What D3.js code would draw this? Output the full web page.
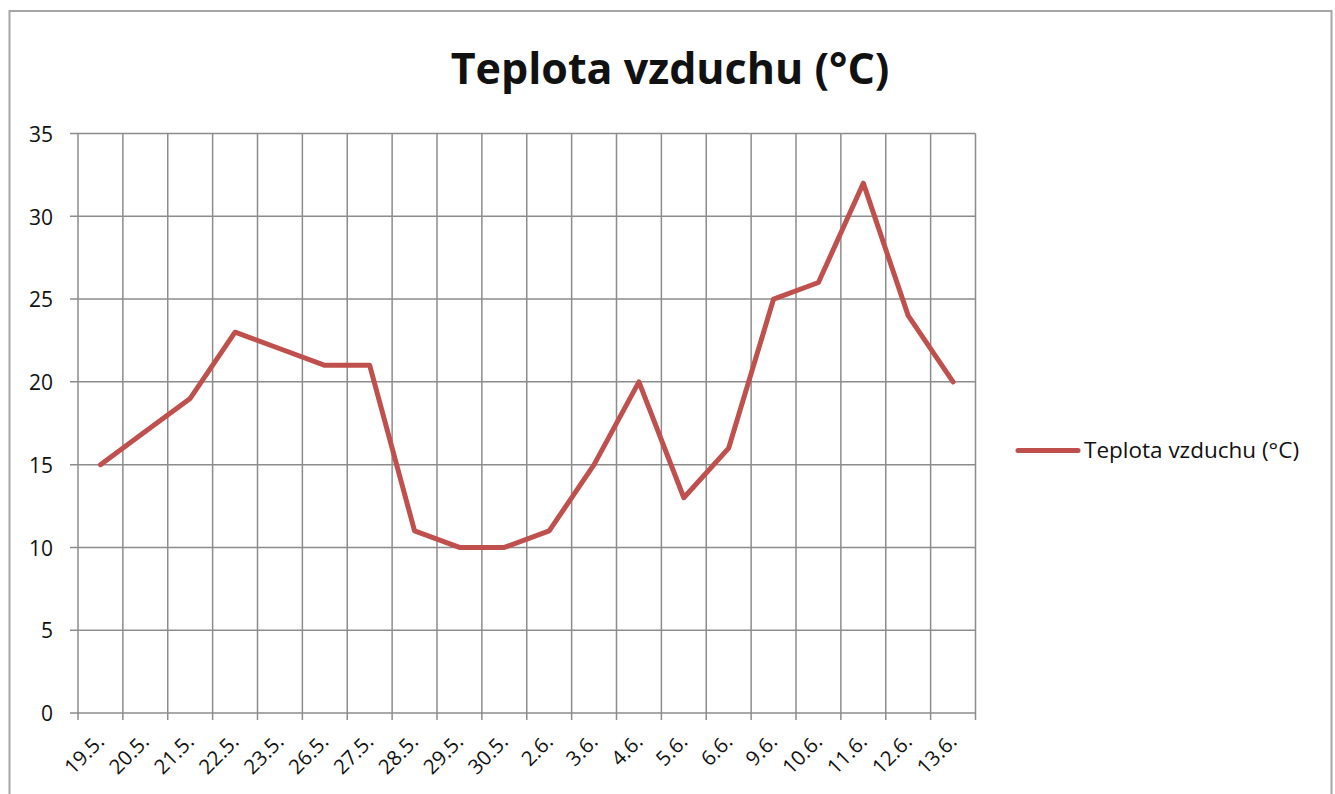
<!DOCTYPE html>
<meta charset="utf-8">
<head>
    <script type="text/javascript" src="https://cdn.jsdelivr.net/npm/d3@7/dist/d3.min.js"></script>
    <style>
        body { margin: 0; background: #fff; }
        text { font-family: "Open Sans", sans-serif; fill: #111; }
    </style>
    <title>Teplota vzduchu</title>
</head>
<body>
    <script>
        // data
        var days = ["19.5.", "20.5.", "21.5.", "22.5.", "23.5.", "26.5.", "27.5.", "28.5.", "29.5.", "30.5.",
                    "2.6.", "3.6.", "4.6.", "5.6.", "6.6.", "9.6.", "10.6.", "11.6.", "12.6.", "13.6."];
        var temps = [15, 17, 19, 23, 22, 21, 21, 11, 10, 10, 11, 15, 20, 13, 16, 25, 26, 32, 24, 20];
        var yTicks = [0, 5, 10, 15, 20, 25, 30, 35];
        var seriesName = "Teplota vzduchu (°C)";

        var W = 1335, H = 794;
        var plot = {left: 78, right: 975.5, top: 133.5, bottom: 713};

        var svg = d3.select("body").append("svg")
            .attr("width", W)
            .attr("height", H);

        // chart frame
        svg.append("rect")
            .attr("x", 9.5).attr("y", 11)
            .attr("width", 1322).attr("height", 820)
            .attr("fill", "#fff")
            .attr("stroke", "#a6a6a6")
            .attr("stroke-width", 2);

        var x = d3.scaleBand()
            .domain(days)
            .range([plot.left, plot.right])
            .paddingInner(0).paddingOuter(0);

        var y = d3.scaleLinear()
            .domain([0, 35])
            .range([plot.bottom, plot.top]);

        var grid = svg.append("g").attr("class", "grid");
        var bounds = days.map(d => x(d)).concat([plot.right]);

        // vertical gridlines + ticks below axis
        grid.selectAll("line.v")
            .data(bounds)
            .enter().append("line")
            .attr("class", "v")
            .attr("x1", d => d).attr("x2", d => d)
            .attr("y1", plot.top).attr("y2", plot.bottom + 7)
            .attr("stroke", "#8c8c8c").attr("stroke-width", 1.5);

        // horizontal gridlines + ticks left of axis
        grid.selectAll("line.h")
            .data(yTicks)
            .enter().append("line")
            .attr("class", "h")
            .attr("x1", plot.left - 8).attr("x2", plot.right)
            .attr("y1", d => y(d)).attr("y2", d => y(d))
            .attr("stroke", "#8c8c8c").attr("stroke-width", 1.5);

        // y labels
        var yAxis = svg.append("g")
            .attr("transform", "translate(" + plot.left + ",1)")
            .call(d3.axisLeft(y).tickValues(yTicks).tickSize(0).tickPadding(25));
        yAxis.select(".domain").remove();
        yAxis.selectAll("text")
            .style("font-size", "21px")
            .attr("fill", "#111");

        // x labels, rotated
        svg.append("g").selectAll("text")
            .data(days)
            .enter().append("text")
            .attr("transform", d => "translate(" + (x(d) + x.bandwidth() / 2 + 5) + "," + 743 + ") rotate(-45)")
            .attr("text-anchor", "end")
            .style("font-size", "20.5px")
            .text(d => d);

        // title
        svg.append("text")
            .attr("x", 670).attr("y", 84)
            .attr("text-anchor", "middle")
            .style("font-size", "43px")
            .style("font-weight", "bold")
            .attr("fill", "#000")
            .text(seriesName);

        // series line
        var line = d3.line()
            .x((d, i) => x(days[i]) + x.bandwidth() / 2)
            .y(d => y(d));

        svg.append("path")
            .datum(temps)
            .attr("d", line)
            .attr("fill", "none")
            .attr("stroke", "#c0504d")
            .attr("stroke-width", 5)
            .attr("stroke-linejoin", "round")
            .attr("stroke-linecap", "round");

        // legend
        var legend = svg.append("g");
        legend.append("line")
            .attr("x1", 1018).attr("x2", 1078)
            .attr("y1", 450.5).attr("y2", 450.5)
            .attr("stroke", "#c0504d")
            .attr("stroke-width", 5)
            .attr("stroke-linecap", "round");
        legend.append("text")
            .attr("x", 1084).attr("y", 458)
            .style("font-size", "22.5px")
            .text(seriesName);
    </script>
</body>
</html>
